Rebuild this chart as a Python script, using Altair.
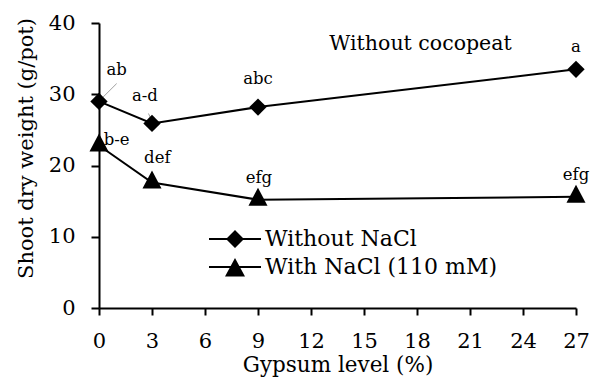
import altair as alt
import pandas as pd

# ---- data ----
gypsum = [0, 3, 9, 27]
without_nacl = [29.0, 25.9, 28.2, 33.5]
with_nacl = [22.8, 17.6, 15.2, 15.6]
series_names = ["Without NaCl", "With NaCl (110 mM)"]

letters = ["ab", "a-d", "abc", "a", "b-e", "def", "efg", "efg"]
letter_x = [1.0, 2.6, 9.0, 27.0, 1.0, 3.3, 9.05, 27.0]
letter_y = [33.4, 29.7, 32.2, 36.7, 23.6, 21.0, 18.2, 18.7]

leader_x = [1.0, 2.8]
leader_y = [31.5, 27.3]
leader_x2 = [0.15, 3.07]
leader_y2 = [29.4, 25.9]

panel_label = ["Without cocopeat"]
panel_x = [18.2]
panel_y = [37.1]

x_ticks = list(range(0, 28, 3))
y_ticks = [0, 10, 20, 30, 40]

# ---- tables ----
df = pd.DataFrame({
    "gypsum": gypsum * 2,
    "weight": without_nacl + with_nacl,
    "series": [series_names[0]] * len(gypsum) + [series_names[1]] * len(gypsum),
})
df_letters = pd.DataFrame({"text": letters, "x": letter_x, "y": letter_y})
df_leaders = pd.DataFrame({"x": leader_x, "y": leader_y, "x2": leader_x2, "y2": leader_y2})
df_panel = pd.DataFrame({"text": panel_label, "x": panel_x, "y": panel_y})

FONT = "DejaVu Serif"
TRI = "M-1.1,0.69L0,-1.39L1.1,0.69Z"
LEG_D = "M-2.6,-0.1L2.6,-0.1L2.6,0.1L-2.6,0.1ZM-0.9,0L0,-0.9L0.9,0L0,0.9Z"
LEG_T = "M-2.6,-0.1L2.6,-0.1L2.6,0.1L-2.6,0.1ZM-1.0,0.95L0,-0.9L1.0,0.95Z"

x_enc = alt.X(
    "gypsum:Q",
    scale=alt.Scale(domain=[0, 27], nice=False, zero=False),
    axis=alt.Axis(
        values=x_ticks, title="Gypsum level (%)", grid=False,
        labelFont=FONT, labelFontSize=21, labelColor="black",
        titleFont=FONT, titleFontSize=21.5, titleFontWeight="normal", titleColor="black",
        domainColor="black", domainWidth=2, tickColor="black", tickWidth=2, tickSize=7,
        labelPadding=15, titlePadding=3, labelFlush=False, labelOverlap=False,
    ),
)
y_enc = alt.Y(
    "weight:Q",
    scale=alt.Scale(domain=[0, 40], nice=False),
    axis=alt.Axis(
        values=y_ticks, title="Shoot dry weight (g/pot)", grid=False,
        labelFont=FONT, labelFontSize=21, labelColor="black",
        titleFont=FONT, titleFontSize=21, titleFontWeight="normal", titleColor="black",
        domainColor="black", domainWidth=2, tickColor="black", tickWidth=2, tickSize=8,
        labelPadding=16, titlePadding=12, titleY=125,
    ),
)

base = alt.Chart(df)

lines = base.mark_line(color="black", strokeWidth=2).encode(
    x=x_enc, y=y_enc, detail="series:N"
)

points = base.mark_point(filled=True, color="black", opacity=1, size=300).encode(
    x="gypsum:Q", y="weight:Q",
    shape=alt.Shape("series:N", scale=alt.Scale(domain=series_names, range=["diamond", TRI]),
                    legend=None),
)

legend_pts = base.mark_point(
    filled=True, fill="black", stroke="black", strokeWidth=2, opacity=0, size=400
).encode(
    x="gypsum:Q", y="weight:Q",
    shape=alt.Shape(
        "series:N",
        scale=alt.Scale(domain=series_names, range=[LEG_D, LEG_T]),
        legend=alt.Legend(
            title=None, orient="none", legendX=125, legendY=205, padding=0,
            labelFont=FONT, labelFontSize=22, labelColor="black", labelLimit=500,
            symbolSize=400, symbolStrokeWidth=0, symbolStrokeColor="black",
            symbolFillColor="black", symbolOpacity=1, labelOffset=19, rowPadding=6,
        ),
    ),
)

leaders = alt.Chart(df_leaders).mark_rule(color="#a0a0a0", strokeWidth=1).encode(
    x="x:Q", y="y:Q", x2="x2:Q", y2="y2:Q"
)

letter_text = alt.Chart(df_letters).mark_text(
    font=FONT, fontSize=16.5, color="black", align="center", baseline="middle"
).encode(x="x:Q", y="y:Q", text="text:N")

panel_text = alt.Chart(df_panel).mark_text(
    font=FONT, fontSize=20.5, color="black", align="center", baseline="middle"
).encode(x="x:Q", y="y:Q", text="text:N")

chart = (
    alt.layer(lines, leaders, points, legend_pts, letter_text, panel_text)
    .resolve_scale(shape="independent")
    .properties(
        width=477, height=285,
        autosize=alt.AutoSizeParams(type="none"),
        padding={"left": 99, "top": 23, "right": 16, "bottom": 71},
        background="white",
    )
    .configure(font=FONT)
    .configure_view(stroke=None)
)

chart.save("out.html", embed_options={"renderer": "svg", "actions": False})
